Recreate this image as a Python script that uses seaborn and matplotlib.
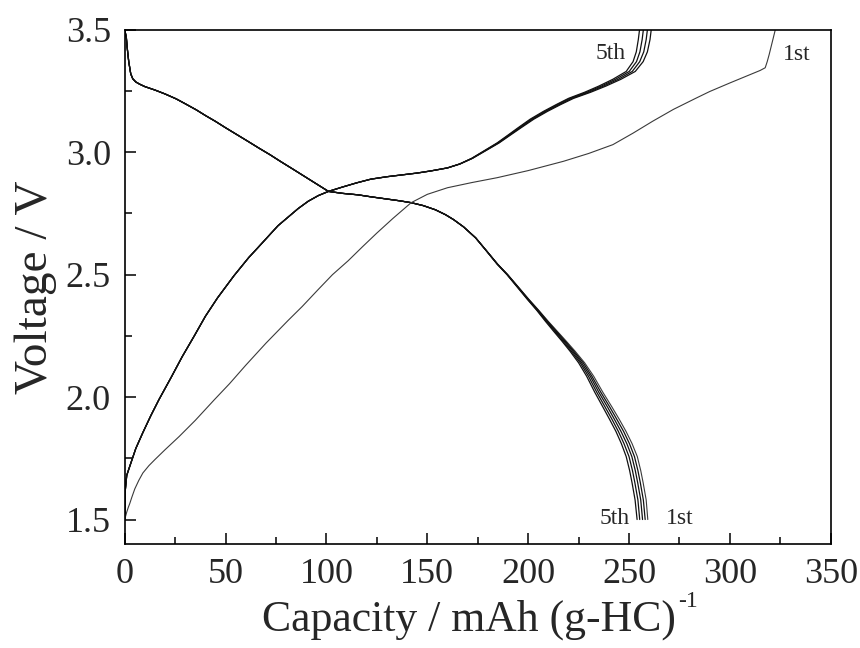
import matplotlib
matplotlib.use("Agg")
import matplotlib.pyplot as plt
from matplotlib.ticker import MultipleLocator, FormatStrFormatter
import pandas as pd
import seaborn as sns

# discharge curves: shared upper part, cycle-specific tails
dis_head_volt = [3.50, 3.47, 3.43, 3.37, 3.32, 3.30, 3.287, 3.278, 3.268, 3.254, 3.238, 3.218,
                 3.198, 3.173, 3.15, 3.126, 3.10, 3.07, 3.045, 3.017, 2.99, 2.961, 2.933,
                 2.902, 2.871, 2.84, 2.832, 2.826, 2.818, 2.81, 2.802, 2.794, 2.782, 2.765,
                 2.745, 2.725, 2.695]
dis_head_cap = [0, 0.8, 1.2, 2.0, 3.0, 4.0, 5.5, 7.4, 10, 15, 20, 25.5,
                30, 35.5, 40, 45, 50, 56, 61, 66.5, 72, 77.5, 83,
                89, 95, 101, 108, 115.7, 122, 129, 136, 142, 148, 154,
                159, 163, 168]
dis_tail_volt = [2.65, 2.60, 2.543, 2.50, 2.45, 2.40, 2.354, 2.31, 2.27, 2.23, 2.188, 2.14,
                 2.085, 2.02, 1.96, 1.91, 1.86, 1.81, 1.757, 1.70, 1.65, 1.58, 1.50]
dis_tail_cap = {
    "1st": [174, 179.1, 184.9, 189.9, 195.1, 200.3, 205.3, 209.9, 214.3, 218.7, 223.2, 228.0,
            232.5, 237.0, 241.5, 245.1, 248.5, 251.5, 254.1, 255.8, 257.0, 258.5, 259.3],
    "2nd": [174, 179.1, 184.8, 189.8, 195.0, 200.1, 205.1, 209.6, 213.9, 218.2, 222.6, 227.3,
            231.6, 236.0, 240.4, 243.9, 247.3, 250.2, 252.7, 254.4, 255.6, 257.1, 258.0],
    "3rd": [174, 179.1, 184.8, 189.7, 194.8, 199.9, 204.8, 209.2, 213.4, 217.7, 222.0, 226.5,
            230.8, 235.0, 239.3, 242.7, 246.0, 248.9, 251.4, 253.1, 254.3, 255.8, 256.7],
    "4th": [174, 179.0, 184.7, 189.6, 194.7, 199.7, 204.5, 208.9, 213.0, 217.1, 221.3, 225.8,
            229.9, 234.0, 238.1, 241.5, 244.7, 247.5, 250.0, 251.7, 252.9, 254.4, 255.3],
    "5th": [174, 179.0, 184.6, 189.5, 194.5, 199.5, 204.3, 208.5, 212.5, 216.6, 220.7, 225.0,
            229.0, 233.0, 237.0, 240.3, 243.5, 246.2, 248.6, 250.3, 251.5, 253.0, 254.0],
}

# charge curves, cycles 2-5
chg_head_volt = [1.50, 1.62, 1.68, 1.717, 1.79, 1.855, 1.925, 1.99, 2.08, 2.165, 2.25, 2.33,
                 2.405, 2.496, 2.57, 2.61, 2.655, 2.70, 2.735, 2.77, 2.80, 2.823, 2.84,
                 2.858, 2.875, 2.89, 2.90, 2.908, 2.915, 2.924]
chg_head_cap = [0, 0.3, 1.0, 2.5, 5.5, 9, 13, 17, 23, 28.5, 34.5, 40,
                46, 54.2, 61.5, 66, 71, 76, 81, 86, 91, 96, 101,
                108, 115, 122, 130, 138, 145, 152]
chg_tail_volt = [2.936, 2.952, 2.975, 3.005, 3.038, 3.07, 3.10, 3.135, 3.167, 3.195, 3.22,
                 3.245, 3.27, 3.298, 3.33, 3.37, 3.41, 3.46, 3.50]
chg_tail_cap = {
    "2nd": [160, 166.2, 172.4, 178.7, 185.6, 191.2, 196.5, 202.8, 209.6, 216.2, 222.5,
            231.0, 238.5, 246.0, 253.1, 257.0, 259.1, 260.4, 261.0],
    "3rd": [160, 166.1, 172.3, 178.5, 185.3, 190.8, 196.0, 202.2, 208.9, 215.5, 221.7,
            230.0, 237.3, 244.7, 251.6, 255.3, 257.3, 258.5, 259.1],
    "4th": [160, 166.1, 172.1, 178.2, 184.9, 190.4, 195.5, 201.6, 208.3, 214.7, 220.8,
            229.0, 236.2, 243.3, 250.1, 253.7, 255.4, 256.5, 257.1],
    "5th": [160, 166.0, 172.0, 178.0, 184.6, 190.0, 195.0, 201.0, 207.6, 214.0, 220.0,
            228.0, 235.0, 242.0, 248.6, 252.0, 253.6, 254.6, 255.2],
}

# first charge
chg1_cap = [0, 0.5, 1, 1.8, 2.5, 3.5, 5, 7, 9, 12, 15, 20, 27, 35, 44.3, 52, 60, 70, 81, 88,
            96, 103, 110.8, 118, 125, 133, 142, 150, 160, 172, 184.6, 200, 217.5, 230, 242,
            252, 261.8, 272, 283, 290, 300, 310, 315, 317.5, 318.5, 319.5, 321, 322.5]
chg1_volt = [1.50, 1.515, 1.53, 1.55, 1.565, 1.59, 1.625, 1.66, 1.69, 1.72, 1.745, 1.785,
             1.839, 1.905, 1.988, 2.055, 2.13, 2.22, 2.313, 2.37, 2.44, 2.50, 2.557, 2.615,
             2.67, 2.73, 2.794, 2.828, 2.855, 2.876, 2.896, 2.925, 2.963, 2.995, 3.031, 3.078,
             3.127, 3.175, 3.22, 3.248, 3.283, 3.317, 3.334, 3.345, 3.37, 3.40, 3.45, 3.50]

rows = []
for cyc, tail in dis_tail_cap.items():
    for c, v in zip(dis_head_cap + tail, dis_head_volt + dis_tail_volt):
        rows.append(("dis " + cyc, cyc, c, v))
for cyc, tail in chg_tail_cap.items():
    for c, v in zip(chg_head_cap + tail, chg_head_volt + chg_tail_volt):
        rows.append(("chg " + cyc, cyc, c, v))
for c, v in zip(chg1_cap, chg1_volt):
    rows.append(("chg 1st", "1st", c, v))
df = pd.DataFrame(rows, columns=["curve", "cycle", "capacity", "voltage"])

sns.set_theme(style="ticks")
plt.rcParams["font.family"] = ["Liberation Serif", "DejaVu Serif"]

fig, ax = plt.subplots(figsize=(8.6, 6.48), dpi=100)
fig.subplots_adjust(left=0.145, right=0.966, top=0.954, bottom=0.1605)

for name, sub in df.groupby("curve", sort=False):
    first = sub["cycle"].iloc[0] == "1st"
    sns.lineplot(data=sub, x="capacity", y="voltage", sort=False, estimator=None,
                 color="#3a3a3a" if first else "#111111",
                 linewidth=0.8 if first else 0.9, ax=ax, legend=False)

ax.set_xlim(0, 350)
ax.set_ylim(1.4, 3.5)
ax.xaxis.set_major_locator(MultipleLocator(50))
ax.xaxis.set_minor_locator(MultipleLocator(25))
ax.yaxis.set_major_locator(MultipleLocator(0.5))
ax.yaxis.set_minor_locator(MultipleLocator(0.25))
ax.yaxis.set_major_formatter(FormatStrFormatter("%.1f"))
ax.tick_params(which="both", direction="in", width=1.1, color="black", labelsize=26, pad=10)
ax.tick_params(which="major", length=8)
ax.tick_params(which="minor", length=5)
for s in ax.spines.values():
    s.set_linewidth(1.2)
    s.set_color("black")

ax.set_xlabel("Capacity / mAh (g-HC)", fontsize=31.5, labelpad=6)
ax.xaxis.label.set_x(0.487)
ax.set_ylabel("Voltage / V", fontsize=34, labelpad=6)

ax.text(241, 3.404, "5th", fontsize=17, ha="center", va="center")
ax.text(333, 3.40, "1st", fontsize=17, ha="center", va="center")
ax.text(243, 1.506, "5th", fontsize=17, ha="center", va="center")
ax.text(275, 1.506, "1st", fontsize=17, ha="center", va="center")

# superscript -1 after the x label
fig.canvas.draw()
bb = ax.xaxis.label.get_window_extent()
fig.text((bb.x1 + 3) / fig.bbox.width, (bb.y1 + 8) / fig.bbox.height, "-1",
         fontsize=17, ha="left", va="top")

fig.savefig("out.png", dpi=100)
